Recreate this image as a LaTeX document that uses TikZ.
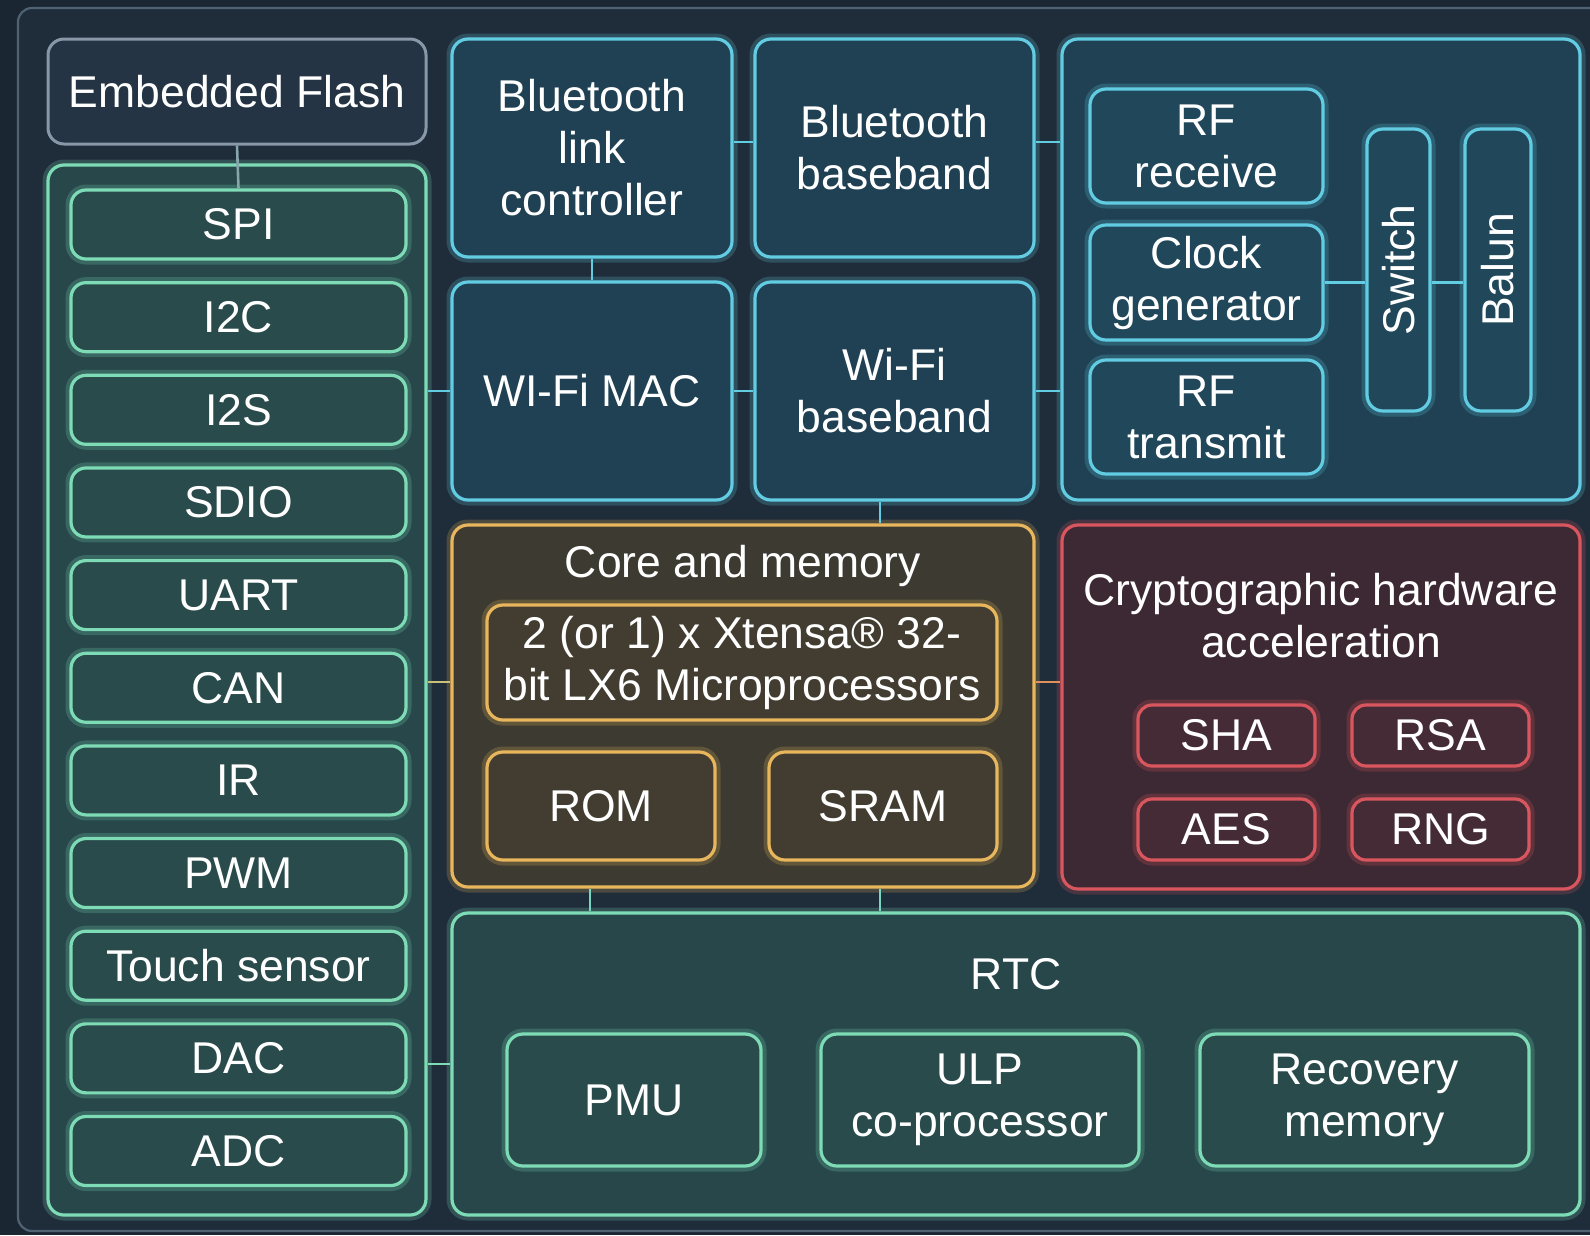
\documentclass[tikz,border=0pt]{standalone}
\usepackage{fontspec}
\setmainfont{Liberation Sans}
\usetikzlibrary{calc}
\definecolor{bgout}{HTML}{1B2633}
\definecolor{bgin}{HTML}{1F2C3A}
\definecolor{frameline}{HTML}{4E6272}
\definecolor{flashfill}{HTML}{243444}
\definecolor{flashline}{HTML}{8898A8}
\definecolor{grnline}{HTML}{7DDCB5}
\definecolor{grnfill}{HTML}{27474A}
\definecolor{grnitem}{HTML}{2A4B4B}
\definecolor{cyline}{HTML}{62CCE2}
\definecolor{cyfill}{HTML}{1F4153}
\definecolor{cyinner}{HTML}{21485A}
\definecolor{orline}{HTML}{E8B65C}
\definecolor{orfill}{HTML}{3C3A31}
\definecolor{orinner}{HTML}{423D30}
\definecolor{rdline}{HTML}{DA565F}
\definecolor{rdfill}{HTML}{3D2933}
\definecolor{rdinner}{HTML}{452B36}
\tikzset{
  x=1pt, y=-1pt,
  every node/.style={font=\fontsize{44.5}{52}\selectfont, text=white, align=center, inner sep=0pt},
  glowbox/.style={draw=#1, line width=3.2pt, rounded corners=16pt,
    preaction={draw=#1, line width=11pt, opacity=0.22, rounded corners=16pt}},
  greenbox/.style={glowbox=grnline, fill=grnfill},
  greenitem/.style={glowbox=grnline, fill=grnitem, minimum width=335pt, minimum height=69pt, rounded corners=15pt},
  cyanbox/.style={glowbox=cyline, fill=cyfill},
  cyaninner/.style={glowbox=cyline, fill=cyinner},
  orangebox/.style={glowbox=orline, fill=orfill},
  orangeinner/.style={glowbox=orline, fill=orinner},
  redbox/.style={glowbox=rdline, fill=rdfill},
  reditem/.style={glowbox=rdline, fill=rdinner, minimum width=177pt, minimum height=61pt, rounded corners=14pt},
  flashbox/.style={draw=flashline, line width=3pt, fill=flashfill, rounded corners=16pt},
  conn/.style={draw=#1, line width=2.6pt},
  sz/.style 2 args={minimum width=#1pt, minimum height=#2pt}
}
\begin{document}
\begin{tikzpicture}
% background
\fill[bgout] (0,0) rectangle (1590,1235);
\useasboundingbox (0,0) rectangle (1590,1235);
\draw[frameline, line width=2.2pt, fill=bgin, rounded corners=14pt] (18,8) rectangle (1620,1231);

% Embedded flash and peripherals
\node[flashbox, sz={378}{105}] (flash) at (237,91.5) {Embedded Flash};
\node[greenbox, sz={378}{1050}] (periph) at (237,690) {};
\node[greenitem] (spi)   at (238.5,224.5)  {SPI};
\node[greenitem] (i2c)   at (238.5,317.15) {I2C};
\node[greenitem] (i2s)   at (238.5,409.8)  {I2S};
\node[greenitem] (sdio)  at (238.5,502.45) {SDIO};
\node[greenitem] (uart)  at (238.5,595.1)  {UART};
\node[greenitem] (can)   at (238.5,687.75) {CAN};
\node[greenitem] (ir)    at (238.5,780.4)  {IR};
\node[greenitem] (pwm)   at (238.5,873.05) {PWM};
\node[greenitem] (touch) at (238.5,965.7)  {Touch sensor};
\node[greenitem] (dac)   at (238.5,1058.35){DAC};
\node[greenitem] (adc)   at (238.5,1151)   {ADC};

% Bluetooth / Wi-Fi
\node[cyanbox, sz={280}{218}] (btlink) at (592,148) {Bluetooth\\link\\controller};
\node[cyanbox, sz={279}{218}] (btbb) at (894.5,148) {Bluetooth\\baseband};
\node[cyanbox, sz={280}{218}] (wifimac) at (592,391) {WI-Fi MAC};
\node[cyanbox, sz={279}{218}] (wifibb) at (894.5,391) {Wi-Fi\\baseband};

% RF block
\node[cyanbox, sz={518}{461}] (rf) at (1321,269.5) {};
\node[cyaninner, sz={233}{114}] (rfrx) at (1206.5,146) {RF\\receive};
\node[cyaninner, sz={233}{115}] (clk) at (1206.5,282.5) {Clock\\generator};
\node[cyaninner, sz={233}{114}] (rftx) at (1206.5,417) {RF\\transmit};
\node[cyaninner, sz={63}{282}] (switch) at (1398.5,270) {};
\node[rotate=90] (switchlbl) at (switch.center) {Switch};
\node[cyaninner, sz={66}{282}] (balun) at (1498,270) {};
\node[rotate=90] (balunlbl) at (balun.center) {Balun};

% Core and memory
\node[orangebox, sz={582}{362}] (core) at (743,706) {};
\node (corelbl) at (743,566) {Core and memory};
\node[orangeinner, sz={510}{115}] (cpu) at (742,662.5) {2 (or 1) x Xtensa® 32-\\bit LX6 Microprocessors};
\node[orangeinner, sz={228}{108}] (rom) at (601,806) {ROM};
\node[orangeinner, sz={228}{108}] (sram) at (883,806) {SRAM};

% Crypto
\node[redbox, sz={518}{364}] (crypto) at (1321,707) {};
\node (cryptolbl) at (1321,616) {Cryptographic hardware\\acceleration};
\node[reditem] (sha) at (1226.5,735.5) {SHA};
\node[reditem] (rsa) at (1440.5,735.5) {RSA};
\node[reditem] (aes) at (1226.5,829.5) {AES};
\node[reditem] (rng) at (1440.5,829.5) {RNG};

% RTC
\node[greenbox, sz={1128}{302}] (rtc) at (1016,1064) {};
\node (rtclbl) at (1016,974) {RTC};
\node[greenbox, fill=grnitem, sz={254}{132}] (pmu) at (634,1100) {PMU};
\node[greenbox, fill=grnitem, sz={318}{132}] (ulp) at (980,1100) {ULP\\co-processor};
\node[greenbox, fill=grnitem, sz={329}{132}] (recov) at (1364.5,1100) {Recovery\\memory};

% connector coordinates
\coordinate (xa) at (590,0);
\coordinate (xb) at (880,0);
\coordinate (ybt) at (0,142);
\coordinate (ycore) at (0,682);

% connectors
\draw[conn=flashline!80!grnline] (flash.south) -- (spi.north);
\draw[conn=cyline] (btlink.east |- ybt) -- (btbb.west |- ybt);
\draw[conn=cyline] (btbb.east |- ybt) -- (rf.west |- ybt);
\draw[conn=cyline] (btlink.south) -- (wifimac.north);
\draw[conn=cyline] (periph.east |- wifimac.west) -- (wifimac.west);
\draw[conn=cyline] (wifimac.east) -- (wifibb.west);
\draw[conn=cyline] (wifibb.east) -- (rf.west |- wifibb.east);
\draw[conn=cyline] (wifibb.south -| xb) -- (core.north -| xb);
\draw[conn=cyline] (clk.east) -- (switch.west |- clk.east);
\draw[conn=cyline] (switch.east |- clk.east) -- (balun.west |- clk.east);
\draw[conn=orline!70!grnline] (periph.east |- ycore) -- (core.west |- ycore);
\draw[conn=orline!60!rdline] (core.east |- ycore) -- (crypto.west |- ycore);
\draw[conn=grnline!70!cyline] (core.south -| xa) -- (rtc.north -| xa);
\draw[conn=grnline!70!cyline] (core.south -| xb) -- (rtc.north -| xb);
\draw[conn=grnline] (periph.east |- rtc.west) -- (rtc.west);
\end{tikzpicture}
\end{document}
